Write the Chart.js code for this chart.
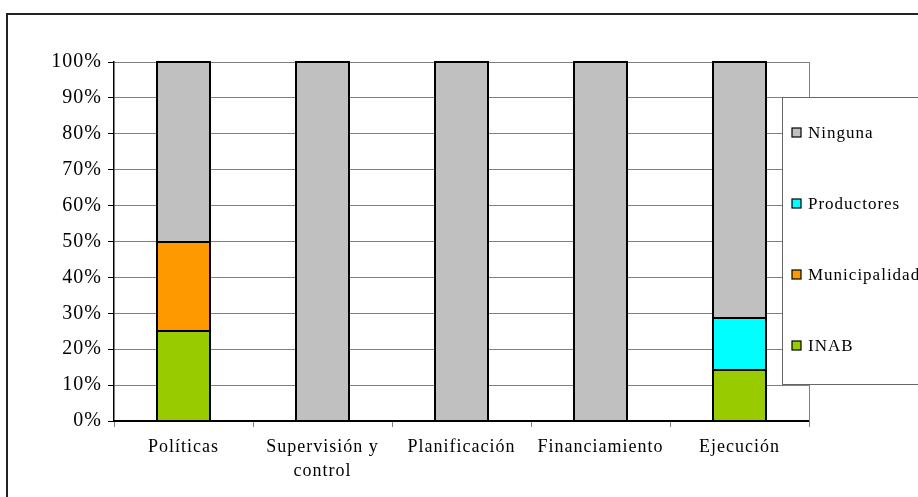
<!DOCTYPE html>
<html>
<head>
<meta charset="utf-8">
<script src="https://cdn.jsdelivr.net/npm/chart.js@4"></script>
<style>
  html, body { margin: 0; padding: 0; background: #fff; }
  #wrap { width: 918px; height: 497px; }
</style>
</head>
<body>
<div id="wrap"><canvas id="c" width="918" height="497"></canvas></div>
<script>
// Categories on the x axis (multi-line where the label wraps)
const categories = ['Políticas', ['Supervisión y', 'control'], 'Planificación', 'Financiamiento', 'Ejecución'];

// Share of each actor per area, in percent
const inab          = [25, 0, 0, 0, 14.3];
const municipalidad = [25, 0, 0, 0, 0];
const productores   = [0, 0, 0, 0, 14.3];
const ninguna       = [50, 100, 100, 100, 71.4];

const seriesNames  = ['INAB', 'Municipalidad', 'Productores', 'Ninguna'];
const seriesColors = ['#99CC00', '#FF9900', '#00FFFF', '#C0C0C0'];

const yTicks = [0, 10, 20, 30, 40, 50, 60, 70, 80, 90, 100];

const SERIF = '"Liberation Serif", "Times New Roman", serif';

// Outer frame, bar outlines, plot border on the right and the boxed legend
const decorations = {
  id: 'decorations',
  beforeDraw(chart) {
    const ctx = chart.ctx;
    ctx.letterSpacing = '1px';
    ctx.save();
    ctx.fillStyle = '#fff';
    ctx.fillRect(0, 0, chart.width, chart.height);
    ctx.strokeStyle = '#222';
    ctx.lineWidth = 2;
    ctx.beginPath();
    ctx.moveTo(918, 14);
    ctx.lineTo(7, 14);
    ctx.lineTo(7, 497);
    ctx.stroke();
    ctx.restore();
  },
  afterDatasetsDraw(chart) {
    // black outline around every stacked segment, shared edges drawn once
    const ctx = chart.ctx;
    ctx.save();
    ctx.strokeStyle = '#000';
    ctx.lineWidth = 2;
    chart.data.datasets.forEach((d, di) => {
      const meta = chart.getDatasetMeta(di);
      meta.data.forEach((el, i) => {
        if (!d.data[i]) return;
        const p = el.getProps(['x', 'y', 'base', 'width'], true);
        const x0 = Math.round(p.x - p.width / 2);
        const x1 = Math.round(p.x + p.width / 2);
        const y0 = Math.round(p.y);
        const y1 = Math.round(p.base);
        ctx.strokeRect(x0, y0, x1 - x0, y1 - y0);
      });
    });
    ctx.restore();
  },
  afterDraw(chart) {
    const ctx = chart.ctx;
    const a = chart.chartArea;
    ctx.save();
    // right border of the plot area, with its tick below the axis
    ctx.strokeStyle = '#808080';
    ctx.lineWidth = 1;
    ctx.beginPath();
    ctx.moveTo(Math.round(a.right) + 0.5, a.top);
    ctx.lineTo(Math.round(a.right) + 0.5, a.bottom + 6);
    ctx.stroke();

    // legend box
    const bx = 782, by = 97, bw = 150, bh = 287;
    ctx.fillStyle = '#fff';
    ctx.fillRect(bx, by, bw, bh);
    ctx.strokeStyle = '#666';
    ctx.lineWidth = 1;
    ctx.strokeRect(bx + 0.5, by + 0.5, bw, bh);

    const ds = chart.data.datasets;
    const rowY = [133, 204, 275, 346];
    ctx.font = '17px ' + SERIF;
    ctx.textBaseline = 'middle';
    ctx.textAlign = 'left';
    for (let i = 0; i < ds.length; i++) {
      const d = ds[ds.length - 1 - i];
      const y = rowY[i];
      ctx.fillStyle = d.backgroundColor;
      ctx.fillRect(792, y - 5, 9, 9);
      ctx.strokeStyle = '#000';
      ctx.lineWidth = 1.2;
      ctx.strokeRect(792, y - 5, 9, 9);
      ctx.fillStyle = '#000';
      ctx.fillText(d.label, 808, y + 1);
    }
    ctx.restore();
  }
};

const seriesData = [inab, municipalidad, productores, ninguna];

new Chart(document.getElementById('c'), {
  type: 'bar',
  data: {
    labels: categories,
    datasets: seriesNames.map((name, i) => ({
      label: name,
      data: seriesData[i],
      backgroundColor: seriesColors[i],
      borderWidth: 0,
      inflateAmount: 0,
      categoryPercentage: 1,
      barPercentage: 0.375
    }))
  },
  options: {
    responsive: false,
    animation: false,
    layout: { padding: { left: 0, top: 62, right: 109, bottom: 0 } },
    plugins: {
      legend: { display: false },
      tooltip: { enabled: false }
    },
    scales: {
      x: {
        stacked: true,
        afterFit(scale) { scale.height = 76; },
        grid: {
          offset: true,
          drawOnChartArea: false,
          drawTicks: true,
          tickLength: 6,
          color: '#808080'
        },
        border: { color: '#000', width: 2 },
        ticks: {
          color: '#000',
          font: { family: SERIF, size: 18, lineHeight: 1.35 },
          padding: 8,
          maxRotation: 0,
          autoSkip: false
        }
      },
      y: {
        stacked: true,
        min: 0,
        max: 100,
        afterFit(scale) { scale.width = 114; },
        afterBuildTicks(scale) { scale.ticks = yTicks.map(v => ({ value: v })); },
        grid: {
          color: '#808080',
          tickColor: '#000',
          tickLength: 6,
          drawTicks: true
        },
        border: { color: '#000', width: 1.5 },
        ticks: {
          color: '#000',
          font: { family: SERIF, size: 20 },
          padding: 6,
          callback: v => v + '%'
        }
      }
    }
  },
  plugins: [decorations]
});
</script>
</body>
</html>
